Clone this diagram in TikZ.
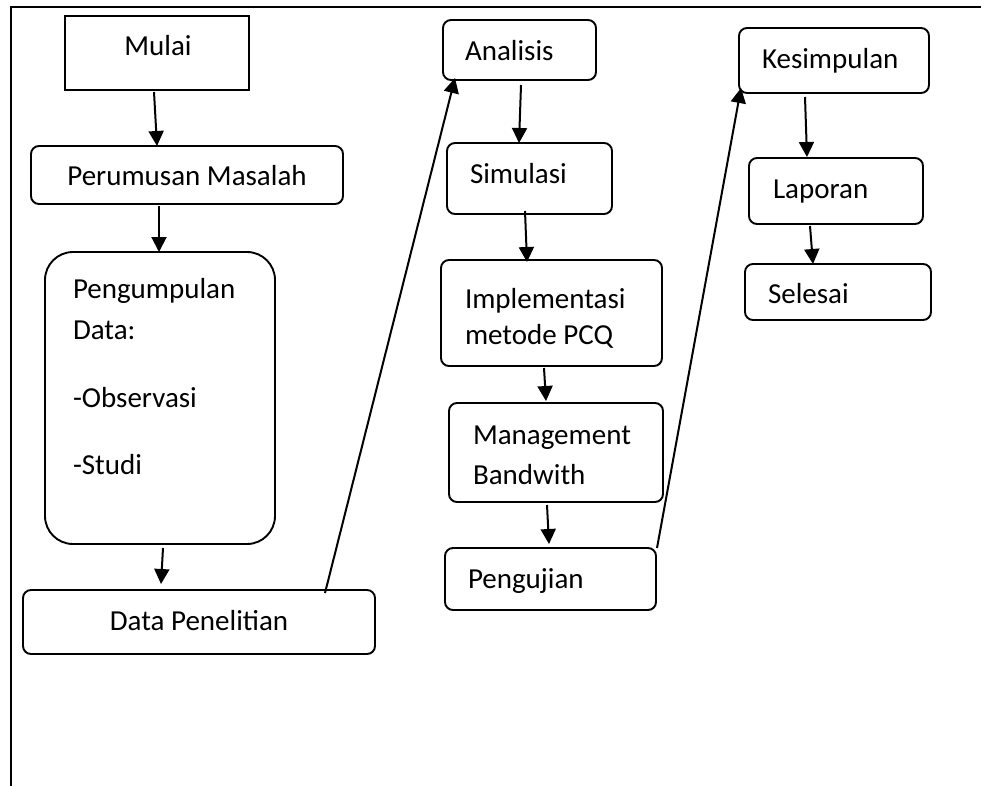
\documentclass[tikz,border=0pt]{standalone}
\usepackage{fontspec}
\setmainfont{Carlito}
\usetikzlibrary{arrows.meta,calc}
\begin{document}
\begin{tikzpicture}[x=1pt,y=-1pt,
  box/.style={draw,line width=1.9pt,rounded corners=8pt,inner sep=0pt,outer sep=0pt},
  txt/.style={inner sep=0pt,outer sep=0pt,font=\fontsize{29}{34}\selectfont,anchor=base west},
  ctxt/.style={txt,anchor=base},
  arr/.style={line width=2pt,-{Triangle[length=15pt,width=15pt]}},
  link/.style={line width=2pt}]
\useasboundingbox (0,0) rectangle (981,785);
% frame
\draw[line width=1.9pt] (11,790) -- (11,7) -- (990,7);
% boxes
\node[box,rounded corners=0pt,minimum width=184pt,minimum height=74pt] (mulai) at (157,53) {};
\node[box,minimum width=312pt,minimum height=58pt] (perum) at (187,175) {};
\node[box,rounded corners=28pt,minimum width=230pt,minimum height=292pt] (pengum) at (160,398) {};
\node[box,minimum width=352pt,minimum height=64pt] (datap) at (199,622) {};
\node[box,minimum width=153pt,minimum height=60pt] (ana) at (519.5,50) {};
\node[box,minimum width=165pt,minimum height=71pt] (sim) at (529.5,178.5) {};
\node[box,minimum width=221pt,minimum height=106pt] (impl) at (551.5,313) {};
\node[box,minimum width=214pt,minimum height=99pt] (mgmt) at (556,452.5) {};
\node[box,minimum width=211pt,minimum height=62pt] (peng) at (550.5,579) {};
\node[box,minimum width=190pt,minimum height=65pt] (kes) at (834,60.5) {};
\node[box,minimum width=174pt,minimum height=66pt] (lap) at (836,191) {};
\node[box,minimum width=186pt,minimum height=56pt] (sel) at (838,292) {};
% texts
\node[ctxt] (tmulai) at (158,55) {Mulai};
\node[ctxt] (tperum) at (187,185) {Perumusan Masalah};
\node[txt] (tpeng1) at (73,298) {Pengumpulan};
\node[txt] (tpeng2) at (73,339) {Data:};
\node[txt] (tpeng3) at (73,407) {-Observasi};
\node[txt] (tpeng4) at (73,474) {-Studi};
\node[ctxt] (tdatap) at (199,630) {Data Penelitian};
\node[txt] (tana) at (465,60) {Analisis};
\node[txt] (tsim) at (470,183) {Simulasi};
\node[txt] (timpl1) at (465,308) {Implementasi};
\node[txt] (timpl2) at (465,344) {metode PCQ};
\node[txt] (tmgmt1) at (473,444) {Management};
\node[txt] (tmgmt2) at (473,484) {Bandwith};
\node[txt] (tpengj) at (468,588) {Pengujian};
\node[txt] (tkes) at (762,68) {Kesimpulan};
\node[txt] (tlap) at (773,198) {Laporan};
\node[txt] (tsel) at (768,303) {Selesai};
% connectors
\draw[arr] ($(mulai.south)+(-3,2)$) -- ($(perum.north)+(-30,0)$);
\draw[arr] ($(perum.south)+(-28,2)$) -- ($(pengum.north)+(-1,0)$);
\draw[arr] ($(pengum.south)+(3,4)$) -- ($(datap.north)+(-38,-6)$);
\draw[arr] ($(datap.north)+(126,3)$) -- ($(ana.south)+(-64.5,-2)$);
\draw[arr] ($(ana.south)+(1.5,5)$) -- ($(sim.north)+(-10.5,0)$);
\draw[arr] ($(sim.south)+(-4.5,-3)$) -- ($(impl.north)+(-24.5,2)$);
\draw[arr] ($(impl.south)+(-7.5,2)$) -- ($(mgmt.north)+(-10,-2)$);
\draw[arr] ($(mgmt.south)+(-9,3)$) -- ($(peng.north)+(-1.5,-4)$);
\draw[arr] ($(peng.north east)+(1,0)$) -- ($(kes.south west)+(2,-5)$);
\draw[arr] ($(kes.south)+(-29,4)$) -- ($(lap.north)+(-29,-1)$);
\draw[arr] ($(lap.south)+(-26,2)$) -- ($(sel.north)+(-25,0)$);
\end{tikzpicture}
\end{document}
